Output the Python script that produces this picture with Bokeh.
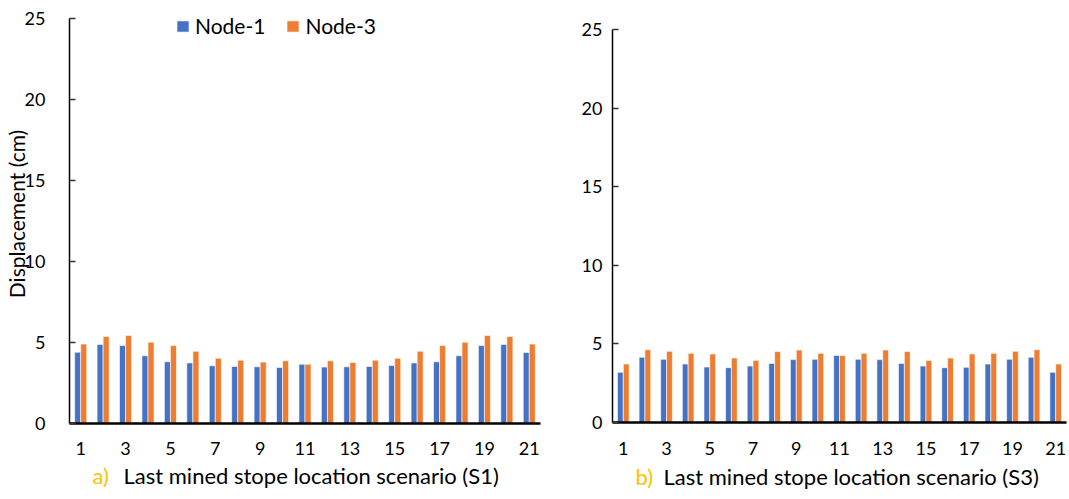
import math
from bokeh.plotting import figure
from bokeh.models import (ColumnDataSource, FixedTicker, Label, Legend, LegendItem,
                          Range1d)
from bokeh.layouts import row, column
from bokeh.embed import file_html
from bokeh.resources import INLINE

# ---------------- data ----------------
nodes = list(range(1, 22))
tick_labels = [1, 3, 5, 7, 9, 11, 13, 15, 17, 19, 21]
y_ticks = [0, 5, 10, 15, 20, 25]

s1_node1 = [4.40, 4.88, 4.81, 4.18, 3.81, 3.74, 3.56, 3.52, 3.50, 3.46, 3.66,
            3.48, 3.50, 3.52, 3.58, 3.74, 3.81, 4.18, 4.81, 4.88, 4.38]
s1_node3 = [4.90, 5.37, 5.43, 5.02, 4.81, 4.46, 4.03, 3.91, 3.79, 3.87, 3.66,
            3.87, 3.77, 3.91, 4.03, 4.46, 4.81, 5.02, 5.43, 5.37, 4.90]

s3_node1 = [3.19, 4.15, 4.02, 3.72, 3.53, 3.49, 3.59, 3.76, 4.00, 4.02, 4.27,
            4.02, 4.00, 3.76, 3.59, 3.49, 3.51, 3.72, 4.02, 4.15, 3.19]
s3_node3 = [3.72, 4.63, 4.53, 4.40, 4.36, 4.10, 3.95, 4.51, 4.61, 4.40, 4.27,
            4.40, 4.61, 4.51, 3.95, 4.10, 4.36, 4.40, 4.53, 4.63, 3.72]

series_names = ["Node-1", "Node-3"]
captions = [("a)", "Last mined stope location scenario (S1)"),
            ("b)", "Last mined stope location scenario (S3)")]
y_label = "Displacement (cm)"

BLUE = "#4472C4"
ORANGE = "#ED7D31"
GOLD = "#FFC000"
FONT = "Lato"
TXT = "#000000"
Y_TOP = 25


def make_panel(n1, n3, width, height, mb_left, mb_right, mb_top, mb_bottom,
               y_standoff, x_standoff, axis_top_px=None, legend=False,
               ylab=False):
    frame_h = height - mb_top - mb_bottom
    if axis_top_px is None:
        y_end = Y_TOP
    else:
        # axis tops out at 25 a few px below the frame top (room for legend)
        y_end = Y_TOP * frame_h / (frame_h - (axis_top_px - mb_top))
    p = figure(width=width, height=height, output_backend="svg",
               toolbar_location=None, x_range=Range1d(0.5, 21.5),
               y_range=Range1d(0, y_end), min_border_left=mb_left,
               min_border_right=mb_right, min_border_top=mb_top,
               min_border_bottom=mb_bottom)
    p.outline_line_color = None
    p.grid.visible = False
    p.background_fill_color = "white"
    p.border_fill_color = "white"

    x1 = [n - 0.135 for n in nodes]
    x3 = [n + 0.135 for n in nodes]
    src = ColumnDataSource(dict(x1=x1, x3=x3, n1=n1, n3=n3))
    r1 = p.vbar(x="x1", top="n1", width=0.27, source=src, fill_color=BLUE,
                line_color="white", line_alpha=0.6, line_width=1)
    r3 = p.vbar(x="x3", top="n3", width=0.27, source=src, fill_color=ORANGE,
                line_color="white", line_alpha=0.6, line_width=1)

    # x axis
    xa = p.xaxis[0]
    xa.ticker = FixedTicker(ticks=tick_labels)
    xa.major_tick_line_color = None
    xa.minor_tick_line_color = None
    xa.major_tick_out = 0
    xa.major_tick_in = 0
    xa.major_label_standoff = x_standoff
    xa.axis_line_width = 2.5
    xa.axis_line_color = "black"
    xa.major_label_text_font = FONT
    xa.major_label_text_font_size = "18px"
    xa.major_label_text_color = TXT

    # y axis
    ya = p.yaxis[0]
    ya.ticker = FixedTicker(ticks=y_ticks)
    ya.bounds = (0, Y_TOP)
    ya.minor_tick_line_color = None
    ya.major_tick_in = 6
    ya.major_tick_out = 0
    ya.major_tick_line_color = "#333333"
    ya.major_tick_line_width = 1.5
    ya.axis_line_width = 1.5
    ya.axis_line_color = "black"
    ya.major_label_standoff = y_standoff
    ya.major_label_text_font = FONT
    ya.major_label_text_font_size = "18px"
    ya.major_label_text_color = TXT

    if ylab:
        ya.axis_label = y_label
        ya.axis_label_standoff = -7
        ya.axis_label_text_font = FONT
        ya.axis_label_text_font_size = "21px"
        ya.axis_label_text_font_style = "normal"
        ya.axis_label_text_color = TXT

    if legend:
        lg = Legend(items=[LegendItem(label=series_names[0], renderers=[r1]),
                           LegendItem(label=series_names[1], renderers=[r3])],
                    orientation="horizontal", location=(106, 385),
                    padding=0, margin=0, spacing=20, label_standoff=5,
                    glyph_width=15, glyph_height=14,
                    label_text_font=FONT, label_text_font_size="21px",
                    label_text_color=TXT, border_line_color=None,
                    background_fill_alpha=0)
        p.add_layout(lg, "center")
    return p


def make_caption(width, height, mb_left, mb_right, tag, text, x_tag, x_text,
                 y_base):
    # x range in page pixels of the aligned frame
    left = mb_left
    right = width - mb_right
    c = figure(width=width, height=height, output_backend="svg",
               toolbar_location=None, x_range=Range1d(left, right),
               y_range=Range1d(0, height), min_border_left=mb_left,
               min_border_right=mb_right, min_border_top=0,
               min_border_bottom=0)
    c.axis.visible = False
    c.grid.visible = False
    c.outline_line_color = None
    c.add_layout(Label(x=x_tag, y=y_base, text=tag, text_align="left",
                       text_baseline="alphabetic", text_font=FONT,
                       text_font_size="22px", text_color=GOLD))
    c.add_layout(Label(x=x_text, y=y_base, text=text, text_align="left",
                       text_baseline="alphabetic", text_font=FONT,
                       text_font_size="22px", text_color=TXT))
    return c


W1, W2, H, HC = 555, 514, 463, 36
p1 = make_panel(s1_node1, s1_node3, W1, H, 69, 15, 4, 40, 24, 18,
                axis_top_px=18, legend=True, ylab=True)
c1 = make_caption(W1, HC, 69, 15, captions[0][0], captions[0][1], 92, 123, 24)
p2 = make_panel(s3_node1, s3_node3, W2, H, 57, 3, 29, 41, 10, 19)
c2 = make_caption(W2, HC, 57, 3, captions[1][0], captions[1][1],
                  635 - W1, 663 - W1, 23)

layout = row(column(p1, c1), column(p2, c2))
open("out.html", "w").write(file_html(layout, INLINE))
